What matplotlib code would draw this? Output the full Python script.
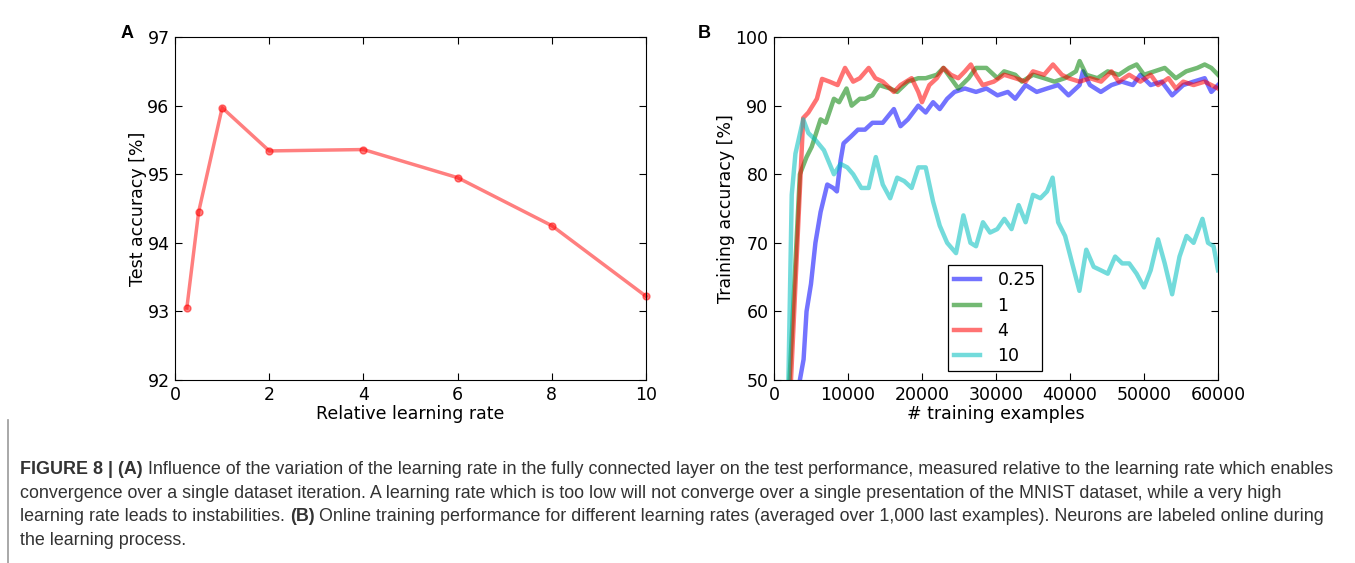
import matplotlib
matplotlib.use("Agg")
import matplotlib.pyplot as plt
from matplotlib.lines import Line2D

# ---- panel A data ----
lr_rel = [0.25, 0.5, 1, 2, 4, 6, 8, 10]
test_acc = [93.05, 94.45, 95.97, 95.34, 95.36, 94.95, 94.25, 93.22]

# ---- panel B data ----
x_025 = [3500, 4000, 4400, 5000, 5600, 6300, 7200, 8000, 8500, 9000, 9400, 10400, 11350, 12300,
         13300, 14700, 16200, 17100, 18100, 19500, 20500, 21500, 22400, 23400, 24400, 25800,
         27300, 28700, 30200, 31600, 32600, 34000, 35500, 36900, 38400, 39800, 41300, 41750,
         42700, 44170, 45600, 47000, 48500, 49500, 50900, 52400, 53800, 55300, 56700, 58200,
         59100, 60000]
y_025 = [50, 53, 60, 64, 70, 74.5, 78.5, 78, 77.5, 82, 84.5, 85.5, 86.5, 86.5,
         87.5, 87.5, 89.5, 87, 88, 90, 89, 90.5, 89.5, 91, 92, 92.5,
         92, 92.5, 91.5, 92, 91, 93, 92, 92.5, 93, 91.5, 93, 95,
         93, 92, 93, 93.5, 93, 94.5, 93, 93.5, 91.5, 93, 93.5, 94,
         92, 93]

x_1 = [2100, 3500, 4400, 5100, 6300, 7000, 8100, 8800, 9800, 10500, 11600, 12300, 13300,
       14200, 15700, 16650, 18100, 19500, 20500, 22000, 22900, 23900, 24900, 26300, 27300,
       28700, 30200, 31100, 32600, 33500, 35000, 36500, 37900, 39300, 40800, 41300, 42200,
       43700, 45100, 46600, 48000, 49000, 50000, 51400, 52800, 54300, 55700, 57200, 58200,
       59100, 60000]
y_1 = [50, 80, 82.5, 84, 88, 87.5, 91, 90.5, 92.5, 90, 91, 91, 91.5,
       93, 92.5, 92, 93.5, 94, 94, 94.5, 95.5, 94, 92.5, 94, 95.5,
       95.5, 94, 95, 94.5, 93.5, 94.5, 94, 93.5, 94, 95, 96.5, 94.5,
       94, 95, 94.5, 95.5, 96, 94.5, 95, 95.5, 94, 95, 95.5, 96,
       95.5, 94.5]

x_4 = [2300, 3950, 4650, 5800, 6500, 7500, 8600, 9600, 10700, 11600, 12800, 13700, 14700,
       15200, 16200, 17100, 18600, 19500, 20000, 21000, 22000, 22900, 23900, 24900, 25800,
       26600, 27300, 28200, 29700, 31100, 32600, 34000, 35000, 36500, 37700, 38900, 39800,
       41300, 42700, 44200, 45600, 46600, 48000, 49500, 50900, 51900, 53300, 54300, 55300,
       56700, 58200, 59100, 60000]
y_4 = [50, 88.2, 89, 91, 93.9, 93.5, 93, 95.5, 93.5, 94, 95.5, 94, 93.5,
       93, 92, 93, 94, 92, 90.5, 93, 94, 95.5, 94.5, 94, 95,
       96, 94.5, 93, 93.5, 94.5, 94, 93.5, 95, 94.5, 96, 94.5, 94,
       93.5, 94, 93.5, 95, 93.5, 94.5, 93.5, 94.5, 93, 94, 92.5, 93.5,
       93, 93.5, 93, 92.5]

x_10 = [1950, 2400, 2900, 3950, 4650, 5600, 6750, 8100, 9000, 9900, 10700, 11800, 12800,
        13760, 14700, 15700, 16650, 17600, 18600, 19500, 20500, 21500, 22400, 23400, 24600,
        25600, 26550, 27300, 28240, 29200, 30170, 31130, 32100, 33060, 34000, 35000, 36000,
        36900, 37650, 38400, 39340, 40300, 41270, 42200, 43200, 44170, 45100, 46100, 47060,
        48000, 49000, 50000, 50900, 51900, 52800, 53800, 54800, 55750, 56700, 57900, 58650,
        59400, 60000]
y_10 = [50, 77, 83, 88, 86, 85, 83.5, 80, 81.5, 81, 80, 78, 78,
        82.5, 78.5, 76.5, 79.5, 79, 78, 81, 81, 76, 72.5, 70, 68.5,
        74, 70, 69.5, 73, 71.5, 72, 73.5, 72, 75.5, 73, 77, 76.5,
        77.5, 79.5, 73, 71, 67, 63, 69, 66.5, 66, 65.5, 68, 67,
        67, 65.5, 63.5, 66, 70.5, 67, 62.5, 68, 71, 70, 73.5, 70,
        69.5, 66]

series_labels = ["0.25", "1", "4", "10"]
series_colors = ["b", "g", "r", "c"]

fig = plt.figure(figsize=(13.55, 5.63), dpi=100)

tick_kw = dict(direction="in", top=True, right=True, length=5, labelsize=12.5, pad=4)

# ---- A ----
axA = fig.add_axes([0.1292, 0.325, 0.3476, 0.6092])
axA.plot(lr_rel, test_acc, "-o", color="r", alpha=0.5, lw=2.5, ms=5, mec="r",
         clip_on=False)
axA.set_xlim(0, 10)
axA.set_ylim(92, 97)
axA.set_xticks([0, 2, 4, 6, 8, 10])
axA.set_yticks([92, 93, 94, 95, 96, 97])
axA.tick_params(**tick_kw)
axA.set_xlabel("Relative learning rate", fontsize=12.5, labelpad=1)
axA.set_ylabel("Test accuracy [%]", fontsize=12.5, labelpad=0)

# ---- B ----
axB = fig.add_axes([0.5712, 0.325, 0.3277, 0.6092])
for xs, ys, c, lab in zip([x_025, x_1, x_4, x_10], [y_025, y_1, y_4, y_10],
                          series_colors, series_labels):
    axB.plot(xs, ys, color=c, alpha=0.55, lw=3.2, label=lab)
axB.set_xlim(0, 60000)
axB.set_ylim(50, 100)
axB.set_xticks(range(0, 60001, 10000))
axB.set_yticks(range(50, 101, 10))
axB.tick_params(**tick_kw)
axB.set_xlabel("# training examples", fontsize=12.5, labelpad=1)
axB.set_ylabel("Training accuracy [%]", fontsize=12.5, labelpad=0)
leg = axB.legend(loc="lower left", bbox_to_anchor=(0.392, 0.025), fontsize=12.5,
                 fancybox=False, edgecolor="black", framealpha=1, handlelength=1.5,
                 borderpad=0.35, labelspacing=0.42, handletextpad=1.0, borderaxespad=0)
leg.get_frame().set_linewidth(0.9)

# panel letters
fig.text(127 / 1355, 1 - 34 / 563, "A", fontsize=13, fontweight="bold",
         family="Liberation Sans", ha="center", va="center")
fig.text(704 / 1355, 1 - 34 / 563, "B", fontsize=13, fontweight="bold",
         family="Liberation Sans", ha="center", va="center")

# ---- caption ----
cap_font = dict(fontsize=12.9, family="Liberation Sans", color="#333333")

cap_lines = [
    (474, [("FIGURE 8 | (A)", True),
           (" Influence of the variation of the learning rate in the fully connected layer on the test "
            "performance, measured relative to the learning rate which enables", False)]),
    (498, [("convergence over a single dataset iteration. A learning rate which is too low will not "
            "converge over a single presentation of the MNIST dataset, while a very high", False)]),
    (521, [("learning rate leads to instabilities. ", False), ("(B)", True),
           (" Online training performance for different learning rates (averaged over 1,000 last "
            "examples). Neurons are labeled online during", False)]),
    (545, [("the learning process.", False)]),
]

fig.canvas.draw()
renderer = fig.canvas.get_renderer()
for y, parts in cap_lines:
    x = 20 / 1355
    for txt, bold in parts:
        kw = dict(cap_font, fontweight="bold" if bold else "normal")
        t = fig.text(x, 1 - y / 563, txt, va="baseline", ha="left", **kw)
        bb = t.get_window_extent(renderer)
        x = bb.x1 / fig.bbox.width

# left frame line
fig.add_artist(Line2D([8 / 1355, 8 / 1355], [0, 1 - 420 / 563], color="#999999", lw=1.2))

fig.savefig("out.png", dpi=100)
